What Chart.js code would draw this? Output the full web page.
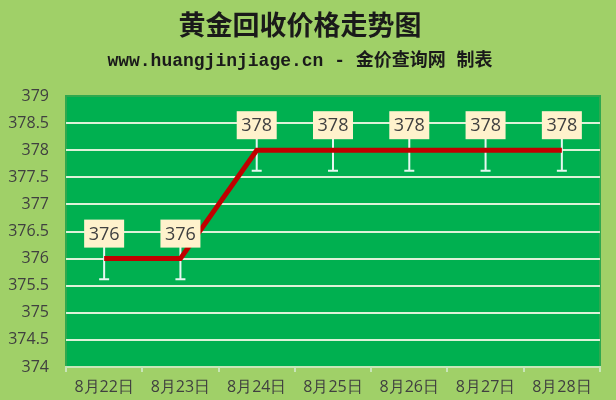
<!DOCTYPE html>
<html>
<head>
<meta charset="utf-8">
<script src="https://cdn.jsdelivr.net/npm/chart.js@4"></script>
<style>
  html, body { margin: 0; padding: 0; background: #A0D068; }
  #wrap { width: 616px; height: 400px; }
</style>
</head>
<body>
<div id="wrap"><canvas id="priceChart"></canvas></div>
<script>
// gold recycle price trend
const days = ['8月22日', '8月23日', '8月24日', '8月25日', '8月26日', '8月27日', '8月28日'];
const prices = [376, 376, 378, 378, 378, 378, 378];
const errs = [0.38, 0.38, 0.38, 0.38, 0.38, 0.38, 0.38];
const yTicks = [374, 374.5, 375, 375.5, 376, 376.5, 377, 377.5, 378, 378.5, 379];

// green plot area behind everything
const plotBg = {
    id: 'plotBg',
    beforeDraw(chart) {
        const { ctx, chartArea: a } = chart;
        ctx.save();
        ctx.fillStyle = '#00B050';
        ctx.fillRect(a.left, a.top, a.right - a.left, a.bottom - a.top);
        ctx.strokeStyle = '#2FA84F';
        ctx.lineWidth = 2;
        ctx.strokeRect(a.left, a.top, a.right - a.left, a.bottom - a.top);
        ctx.restore();
    }
};

// error bars + value boxes
const marks = {
    id: 'marks',
    beforeDatasetsDraw(chart) {
        const { ctx } = chart;
        const y = chart.scales.y;
        const pts = chart.getDatasetMeta(0).data;
        ctx.save();
        ctx.strokeStyle = '#E6F7F0';
        ctx.lineWidth = 2;
        pts.forEach((p, i) => {
            const lo = y.getPixelForValue(prices[i] - errs[i]);
            const hi = y.getPixelForValue(prices[i] + errs[i]);
            ctx.beginPath();
            ctx.moveTo(p.x, hi); ctx.lineTo(p.x, lo);
            ctx.moveTo(p.x - 5, lo); ctx.lineTo(p.x + 5, lo);
            ctx.stroke();
        });
        ctx.restore();
    },
    afterDatasetsDraw(chart) {
        const { ctx } = chart;
        const pts = chart.getDatasetMeta(0).data;
        ctx.save();
        ctx.font = '18px "Open Sans", sans-serif';
        ctx.textAlign = 'center';
        ctx.textBaseline = 'middle';
        pts.forEach((p, i) => {
            const cy = p.y - 25;
            ctx.fillStyle = '#FFF2CC';
            ctx.fillRect(p.x - 20, cy - 14, 40, 28);
            ctx.fillStyle = '#404040';
            ctx.fillText(String(prices[i]), p.x, cy + 1);
        });
        ctx.restore();
    }
};

new Chart(document.getElementById('priceChart'), {
    type: 'line',
    data: {
        labels: days,
        datasets: [{
            data: prices,
            borderColor: '#C00000',
            borderWidth: 5,
            pointRadius: 0,
            tension: 0
        }]
    },
    options: {
        responsive: true,
        maintainAspectRatio: false,
        animation: false,
        layout: { padding: { left: 0, right: 16, top: 0, bottom: 0 } },
        plugins: {
            legend: { display: false },
            tooltip: { enabled: false },
            title: {
                display: true,
                text: '黄金回收价格走势图',
                color: '#1A1A1A',
                font: { family: '"Noto Sans CJK SC"', size: 27, weight: 'bold' },
                padding: { top: 9, bottom: 9 }
            },
            subtitle: {
                display: true,
                text: 'www.huangjinjiage.cn - 金价查询网 制表',
                color: '#1A1A1A',
                font: { family: '"Liberation Mono", "Noto Sans CJK SC"', size: 18, weight: 'bold' },
                padding: { top: 0, bottom: 24 }
            }
        },
        scales: {
            x: {
                offset: true,
                grid: {
                    offset: true,
                    drawOnChartArea: false,
                    drawTicks: true,
                    tickLength: 5,
                    color: '#C8E6B8',
                    lineWidth: 2
                },
                border: { color: '#C8E6B8', width: 2 },
                ticks: {
                    color: '#404040',
                    font: { family: '"Open Sans", sans-serif', size: 16 },
                    padding: 6,
                    maxRotation: 0
                },
                afterFit(s) { s.height = 33; }
            },
            y: {
                min: 374,
                max: 379,
                afterBuildTicks(s) { s.ticks = yTicks.map(v => ({ value: v })); },
                grid: {
                    color: ctx => (ctx.tick && ctx.tick.value === 379) ? 'rgba(0,0,0,0)' : '#DDF2D8',
                    lineWidth: 2,
                    drawTicks: false
                },
                border: { display: false },
                ticks: {
                    color: '#404040',
                    font: { family: '"Open Sans", sans-serif', size: 16 },
                    padding: 17,
                    callback: v => String(v)
                },
                afterFit(s) { s.width = 66; }
            }
        }
    },
    plugins: [plotBg, marks]
});
</script>
</body>
</html>
